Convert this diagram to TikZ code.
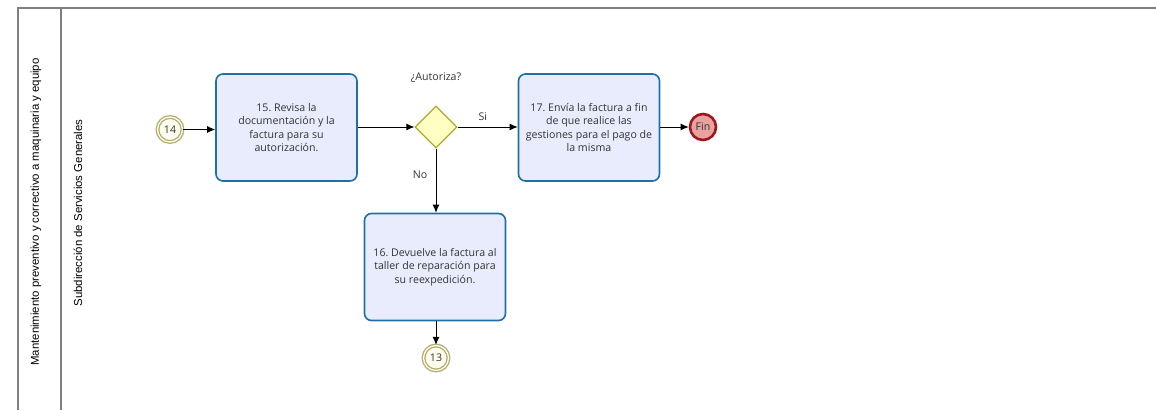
\documentclass[tikz,border=0pt]{standalone}
\usepackage{fontspec}
\setmainfont{Open Sans}
\newfontfamily\lanefont{Liberation Sans}
\usetikzlibrary{shapes.geometric,arrows.meta}
\definecolor{taskfill}{HTML}{E8ECFC}
\definecolor{taskline}{HTML}{1F6FA8}
\definecolor{gwfill}{HTML}{FFFFC4}
\definecolor{gwline}{HTML}{ABAB2A}
\definecolor{evfill}{HTML}{FEFDF0}
\definecolor{evline}{HTML}{B2AC6E}
\definecolor{endfill}{HTML}{E8A2A2}
\definecolor{endline}{HTML}{A0161B}
\definecolor{laneline}{HTML}{7F7F7F}
\definecolor{txt}{HTML}{333333}
\frenchspacing
\begin{document}
\begin{tikzpicture}[x=1pt,y=-1pt,
  taskbox/.style={draw=taskline,line width=1.6pt,fill=taskfill,rounded corners=7pt,
    minimum width=141pt,minimum height=107pt,inner sep=0pt,align=center,
    font=\fontsize{10.6}{13.5}\selectfont,text=txt},
  gw/.style={draw=gwline,line width=1.3pt,fill=gwfill,diamond,minimum width=42pt,minimum height=42pt,inner sep=0pt,aspect=1},
  linkev/.style={draw=evline,double=evfill,double distance=1.3pt,line width=1.3pt,fill=evfill,circle,minimum size=25pt,inner sep=0pt,font=\fontsize{10.6}{11}\selectfont,text=txt},
  endev/.style={draw=endline,line width=2.6pt,fill=endfill,circle,minimum size=26pt,inner sep=0pt,font=\fontsize{10.6}{11}\selectfont,text=txt},
  flow/.style={-{Latex[length=8pt,width=7pt]},line width=0.9pt,black},
  lbl/.style={font=\fontsize{10.6}{11}\selectfont,text=txt},
  lanetxt/.style={font=\lanefont\fontsize{11.4}{13}\selectfont,rotate=90,text=black}
]
\useasboundingbox (0,0) rectangle (1156,410);
\fill[white] (0,0) rectangle (1156,410);
% lanes
\draw[laneline,line width=1.4pt] (18,410) -- (18,8) -- (1156,8);
\draw[laneline,line width=1.4pt] (61,8) -- (61,410);
\node[lanetxt] (pool) at (36,212) {Mantenimiento preventivo y correctivo a maquinaria y equipo};
\node[lanetxt] (lane) at (78,213) {Subdirección de Servicios Generales};
% nodes
\node[linkev] (s14) at (170,129.5) {14};
\node[taskbox] (t15) at (286.5,127.5) {15. Revisa la\\documentación y la\\factura para su\\autorización.};
\node[gw] (g) at (436,127) {};
\node[lbl] (q) at (436,78) {¿Autoriza?};
\node[taskbox] (t17) at (589,127.5) {17. Envía la factura a fin\\de que realice las\\gestiones para el pago de\\la misma};
\node[endev] (fin) at (703,127) {Fin};
\node[taskbox] (t16) at (435,267) {16. Devuelve la factura al\\taller de reparación para\\su reexpedición.};
\node[linkev] (e13) at (436,358) {13};
% flows
\draw[flow] (s14) -- (s14 -| t15.west);
\draw[flow] (t15.east |- g) -- (g.west);
\draw[flow] (g.east) -- (t17.west |- g) node[lbl,pos=0.42,above=3pt] (si) {Si};
\draw[flow] (t17.east |- fin) -- (fin.west);
\draw[flow] (g.south) -- (g.south |- t16.north) node[lbl,pos=0.4,left=5pt] (no) {No};
\draw[flow] (t16.south -| e13) -- (e13.north);
\end{tikzpicture}
\end{document}
